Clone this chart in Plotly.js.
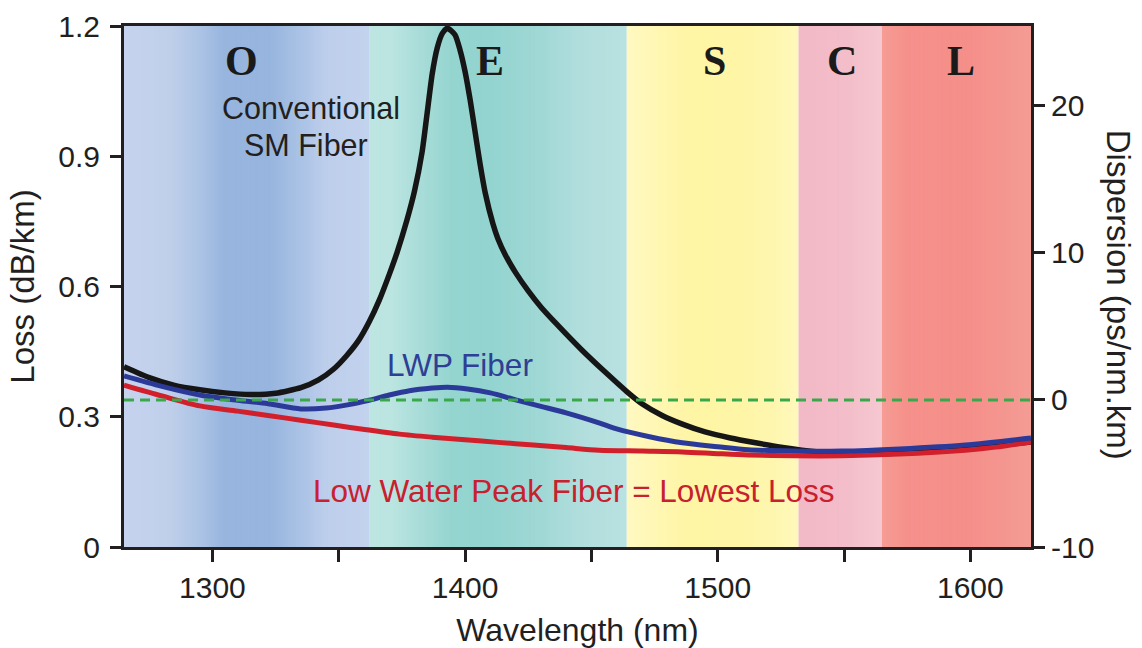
<!DOCTYPE html>
<html><head><meta charset="utf-8">
<script src="https://cdn.plot.ly/plotly-3.0.1.min.js"></script>
<style>html,body{margin:0;padding:0;background:#fff}#chart{width:1142px;height:648px}</style>
</head><body><div id="chart"></div>
<script>
// ---------------- data ----------------
const bandNames = ['O', 'E', 'S', 'C', 'L'];
const bandEdges = [1265, 1362, 1464, 1532, 1565, 1624];

const convWl   = [1265, 1275, 1285, 1295, 1305, 1315, 1325, 1335, 1342, 1348, 1353, 1358, 1362, 1366, 1370, 1373, 1377, 1380, 1383, 1385, 1387, 1389, 1391, 1393, 1396, 1398, 1400, 1402, 1404, 1406, 1408, 1411, 1413, 1416, 1420, 1425, 1430, 1436, 1446, 1456, 1464, 1470, 1478, 1486, 1495, 1505, 1515, 1525, 1540, 1555, 1570, 1585, 1600, 1612, 1624];
const convLoss = [0.415, 0.390, 0.372, 0.362, 0.355, 0.351, 0.354, 0.367, 0.385, 0.410, 0.440, 0.477, 0.518, 0.568, 0.628, 0.677, 0.753, 0.820, 0.910, 1.000, 1.090, 1.150, 1.183, 1.195, 1.180, 1.145, 1.095, 1.030, 0.955, 0.880, 0.815, 0.745, 0.710, 0.672, 0.632, 0.590, 0.553, 0.515, 0.455, 0.400, 0.358, 0.330, 0.303, 0.283, 0.265, 0.251, 0.240, 0.230, 0.219, 0.214, 0.216, 0.222, 0.229, 0.235, 0.242];

const lwpWl   = [1265, 1280, 1295, 1310, 1322, 1335, 1345, 1354, 1362, 1370, 1378, 1387, 1393, 1401, 1410, 1420, 1430, 1440, 1453, 1460, 1473, 1486, 1500, 1512, 1530, 1549, 1572, 1598, 1624];
const lwpLoss = [0.394, 0.370, 0.350, 0.338, 0.330, 0.318, 0.320, 0.328, 0.338, 0.350, 0.360, 0.366, 0.368, 0.364, 0.355, 0.339, 0.324, 0.309, 0.286, 0.272, 0.254, 0.240, 0.231, 0.224, 0.221, 0.221, 0.226, 0.235, 0.251];

const lowWl   = [1265, 1280, 1295, 1310, 1322, 1335, 1348, 1361, 1374, 1387, 1400, 1413, 1427, 1440, 1453, 1470, 1486, 1500, 1512, 1530, 1549, 1572, 1598, 1610, 1624];
const lowLoss = [0.373, 0.348, 0.325, 0.313, 0.303, 0.292, 0.281, 0.270, 0.260, 0.253, 0.247, 0.241, 0.235, 0.229, 0.223, 0.221, 0.219, 0.215, 0.212, 0.210, 0.210, 0.214, 0.223, 0.230, 0.242];

const zeroDispWl = [1265, 1624];
const zeroDisp   = [0, 0];

const xTickVals = [1300, 1350, 1400, 1450, 1500, 1550, 1600];
const xTickText = ['1300', '', '1400', '', '1500', '', '1600'];
const yTickVals = [0, 0.3, 0.6, 0.9, 1.2];
const yTickText = ['0', '0.3', '0.6', '0.9', '1.2'];
const y2TickVals = [-10, 0, 10, 20];
const y2TickText = ['-10', '0', '10', '20'];

const curveLabels = ['Conventional', 'SM Fiber', 'LWP Fiber', 'Low Water Peak Fiber = Lowest Loss'];

// ---------------- styles ----------------
const INK = '#231f20';
const FONT = '"Liberation Sans", Arial, Helvetica, sans-serif';
const SERIF = '"Liberation Serif", "Times New Roman", serif';
// gradient stops per band: [fraction of band width, colour]
const bandStops = [
  [[0, '#c6d3ee'], [0.19, '#bfcfea'], [0.32, '#aac2e4'], [0.41, '#97b5de'], [0.59, '#97b5de'], [0.73, '#abc3e6'], [0.82, '#bdceeb'], [1, '#c3d3ee']],
  [[0, '#bde5e1'], [0.08, '#bce5e1'], [0.22, '#a5dbd7'], [0.32, '#95d5d0'], [0.47, '#93d4d0'], [0.67, '#a0d8d5'], [0.82, '#b1dedd'], [1, '#b9e1e1']],
  [[0, '#fff9c2'], [0.21, '#fff6b0'], [0.38, '#fef5a5'], [0.65, '#fef5a6'], [0.82, '#fef6ad'], [1, '#fff8bc']],
  [[0, '#f2b9c6'], [0.55, '#f3bdc9'], [1, '#f5c8d1']],
  [[0, '#f59d94'], [0.17, '#f5908b'], [0.59, '#f58f8a'], [1, '#f49c95']]
];

function hex2rgb(h) { return [parseInt(h.slice(1,3),16), parseInt(h.slice(3,5),16), parseInt(h.slice(5,7),16)]; }
function colorAt(stops, f) {
  for (let i = 0; i < stops.length - 1; i++) {
    const [f0, c0] = stops[i], [f1, c1] = stops[i+1];
    if (f >= f0 && f <= f1) {
      const t = (f - f0) / (f1 - f0 || 1);
      const a = hex2rgb(c0), b = hex2rgb(c1);
      return 'rgb(' + a.map((v, k) => Math.round(v + (b[k] - v) * t)).join(',') + ')';
    }
  }
  return stops[stops.length - 1][1];
}

const shapes = [];
for (let b = 0; b < bandNames.length; b++) {
  const a = bandEdges[b], e = bandEdges[b+1];
  const n = Math.ceil(e - a);
  const step = (e - a) / n;
  for (let i = 0; i < n; i++) {
    const x0 = a + i * step;
    const x1 = Math.min(e, x0 + step * 1.4);
    shapes.push({type: 'rect', xref: 'x', yref: 'paper', x0: x0, x1: x1, y0: 0, y1: 1,
      fillcolor: colorAt(bandStops[b], (i + 0.5) / n), line: {width: 0}, layer: 'below'});
  }
}

// band letter positions (within each band)
const bandLabelFrac = [0.48, 0.47, 0.51, 0.52, 0.53];
const annotations = bandNames.map((nm, i) => ({
  text: '<b>' + nm + '</b>', xref: 'x', yref: 'paper',
  x: bandEdges[i] + (bandEdges[i+1] - bandEdges[i]) * bandLabelFrac[i], y: 0.933,
  xanchor: 'center', yanchor: 'middle', showarrow: false,
  font: {family: SERIF, size: 42, color: '#1a1a1a'}
}));
annotations.push(
  {text: curveLabels[0], xref: 'x', yref: 'y', x: 1339, y: 1.011, xanchor: 'center', yanchor: 'middle', showarrow: false, font: {family: FONT, size: 30.5, color: INK}},
  {text: curveLabels[1], xref: 'x', yref: 'y', x: 1337, y: 0.925, xanchor: 'center', yanchor: 'middle', showarrow: false, font: {family: FONT, size: 30.5, color: INK}},
  {text: curveLabels[2], xref: 'x', yref: 'y', x: 1398, y: 0.419, xanchor: 'center', yanchor: 'middle', showarrow: false, font: {family: FONT, size: 31.5, color: '#2e3f94'}},
  {text: curveLabels[3], xref: 'x', yref: 'y', x: 1443, y: 0.129, xanchor: 'center', yanchor: 'middle', showarrow: false, font: {family: FONT, size: 31.5, color: '#c8202f'}},
  {text: 'Dispersion (ps/nm.km)', xref: 'paper', yref: 'paper', x: 1.096, y: 0.484, textangle: 90, xanchor: 'center', yanchor: 'middle', showarrow: false, font: {family: FONT, size: 33, color: INK}}
);

const traces = [
  {x: zeroDispWl, y: zeroDisp, yaxis: 'y2', mode: 'lines', name: 'Zero dispersion', line: {color: '#3aa84a', width: 3, dash: '10px,6px'}, hoverinfo: 'skip'},
  {x: convWl, y: convLoss, mode: 'lines', name: 'Conventional SM Fiber', line: {color: '#161616', width: 5.5, shape: 'spline', smoothing: 0.6}},
  {x: lowWl, y: lowLoss, mode: 'lines', name: 'Low Water Peak Fiber', line: {color: '#d1202b', width: 5, shape: 'spline', smoothing: 0.8}},
  {x: lwpWl, y: lwpLoss, mode: 'lines', name: 'LWP Fiber', line: {color: '#2b3a98', width: 5, shape: 'spline', smoothing: 0.8}}
];

const axisCommon = {showline: true, linewidth: 3, linecolor: INK, ticks: 'outside', tickwidth: 3, tickcolor: INK,
  showgrid: false, zeroline: false, tickfont: {family: FONT, size: 30, color: INK}};

const layout = {
  width: 1142, height: 648,
  margin: {l: 124, r: 111, t: 26, b: 101},
  paper_bgcolor: '#ffffff', plot_bgcolor: '#ffffff',
  showlegend: false,
  font: {family: FONT, color: INK, size: 30},
  xaxis: Object.assign({}, axisCommon, {range: [1265, 1624], tickvals: xTickVals, ticktext: xTickText, ticklen: 12, mirror: true,
    title: {text: 'Wavelength (nm)', font: {family: FONT, size: 32, color: INK}, standoff: 17}}),
  yaxis: Object.assign({}, axisCommon, {range: [0, 1.2], tickvals: yTickVals, ticktext: yTickText, ticklen: 11, ticklabelstandoff: 4,
    title: {text: 'Loss (dB/km)', font: {family: FONT, size: 33, color: INK}, standoff: 14}}),
  yaxis2: Object.assign({}, axisCommon, {overlaying: 'y', side: 'right', range: [-10, 25.44], tickvals: y2TickVals, ticktext: y2TickText, ticklen: 11}),
  shapes: shapes,
  annotations: annotations
};

Plotly.newPlot('chart', traces, layout, {displayModeBar: false, staticPlot: true});
</script>
</body></html>
